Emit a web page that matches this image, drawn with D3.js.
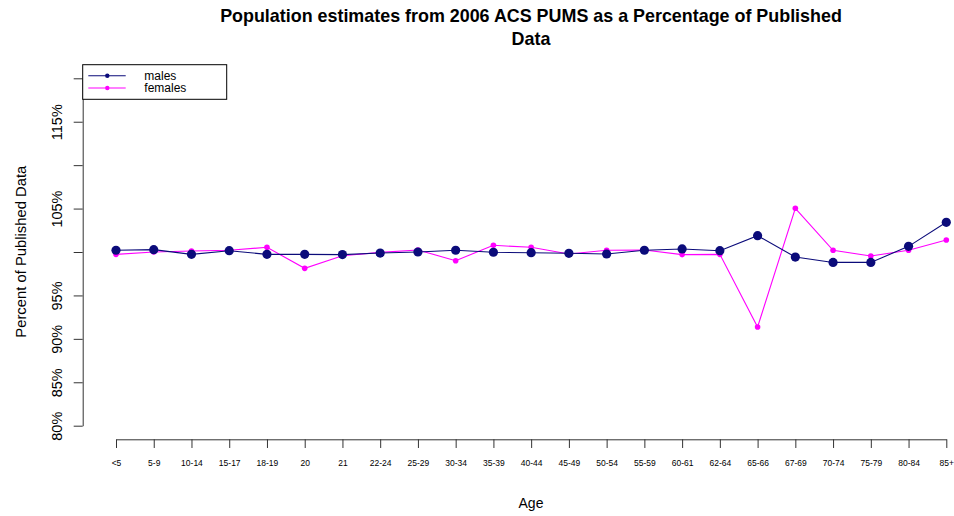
<!DOCTYPE html>
<html>
<head>
<meta charset="utf-8">
<script src="https://cdn.jsdelivr.net/npm/d3@7"></script>
<style>
  html, body { margin: 0; padding: 0; background: #fff; }
  svg { display: block; font-family: "Liberation Sans", Arial, Helvetica, sans-serif; }
</style>
</head>
<body>
<svg id="chart" width="954" height="516"></svg>
<script>
// Age groups on the x axis
const ageGroups = ["<5", "5-9", "10-14", "15-17", "18-19", "20", "21", "22-24", "25-29",
  "30-34", "35-39", "40-44", "45-49", "50-54", "55-59", "60-61", "62-64", "65-66",
  "67-69", "70-74", "75-79", "80-84", "85+"];

// PUMS estimate as a percentage of the published figure
const males = [100.2, 100.27, 99.73, 100.15, 99.73, 99.73, 99.7, 99.88, 100.0,
  100.2, 99.97, 99.92, 99.85, 99.77, 100.2, 100.35, 100.15, 101.88,
  99.42, 98.8, 98.8, 100.65, 103.42];
const females = [99.73, 100.0, 100.12, 100.2, 100.54, 98.12, 99.57, 99.96, 100.23,
  99.0, 100.77, 100.54, 99.77, 100.2, 100.23, 99.7, 99.73, 91.36,
  105.03, 100.2, 99.54, 100.2, 101.38];

// y ticks every 5%; only some carry a label
const yTicks = [80, 85, 90, 95, 100, 105, 110, 115, 120];
const yTickLabels = ["80%", "85%", "90%", "95%", "", "105%", "", "115%", ""];

const titleLines = ["Population estimates from 2006 ACS PUMS as a Percentage of Published", "Data"];

const svg = d3.select("#chart");

const x = d3.scalePoint().domain(ageGroups).range([116, 946.3]);
const y = d3.scaleLinear().domain([80, 120]).range([425.7, 78.3]);

const plotLeft = 82.7, plotBottom = 439.3;
const axisColor = "#333";

// x axis
const xAxis = svg.append("g")
  .attr("transform", `translate(0,${plotBottom})`)
  .call(d3.axisBottom(x).tickSizeInner(8.7).tickSizeOuter(0).tickPadding(12));
xAxis.selectAll("path, line").attr("stroke", axisColor).attr("stroke-width", 1);
xAxis.selectAll("text").attr("font-size", 8.5).attr("fill", "#000")
  .attr("font-family", "Liberation Sans, Arial, sans-serif");

// y axis
const yAxis = svg.append("g")
  .attr("transform", `translate(${plotLeft},0)`)
  .call(d3.axisLeft(y).tickValues(yTicks).tickFormat((d, i) => yTickLabels[i])
    .tickSizeInner(9).tickSizeOuter(0));
yAxis.selectAll("path, line").attr("stroke", axisColor).attr("stroke-width", 1);
yAxis.selectAll("text")
  .attr("font-size", 14.5).attr("fill", "#000")
  .attr("font-family", "Liberation Sans, Arial, sans-serif")
  .attr("text-anchor", "middle")
  .attr("dy", null).attr("x", null)
  .attr("transform", `translate(${56.7 - plotLeft},0) rotate(-90)`)
  .attr("dominant-baseline", "central");

// series lines and points
const line = d3.line().x((d, i) => x(ageGroups[i])).y(d => y(d));

function drawSeries(values, color, r) {
  svg.append("path").datum(values)
    .attr("d", line).attr("fill", "none")
    .attr("stroke", color).attr("stroke-width", 1.1);
  svg.append("g").selectAll("circle").data(values).join("circle")
    .attr("cx", (d, i) => x(ageGroups[i])).attr("cy", d => y(d))
    .attr("r", r).attr("fill", color);
}
drawSeries(females, "#ff00ff", 2.8);
drawSeries(males, "#0b0b7a", 4.6);

// title
svg.append("g").selectAll("text").data(titleLines).join("text")
  .attr("x", 531).attr("y", (d, i) => 22 + i * 22.5)
  .attr("text-anchor", "middle").attr("font-size", 17.9).attr("font-weight", "bold")
  .attr("font-family", "Liberation Sans, Arial, sans-serif")
  .text(d => d);

// axis titles
svg.append("text").attr("x", 531).attr("y", 508)
  .attr("text-anchor", "middle").attr("font-size", 14).text("Age");
svg.append("text")
  .attr("transform", "translate(25.5,251.7) rotate(-90)")
  .attr("text-anchor", "middle").attr("font-size", 14.8).text("Percent of Published Data");

// legend
const legend = svg.append("g");
legend.append("rect").attr("x", 82.7).attr("y", 64.7).attr("width", 144).attr("height", 34.6)
  .attr("fill", "#fff").attr("stroke", "#000").attr("stroke-width", 1);
const legendItems = [{ name: "males", color: "#0b0b7a" }, { name: "females", color: "#ff00ff" }];
legendItems.forEach((item, i) => {
  const ly = 75.7 + i * 12.3;
  legend.append("line").attr("x1", 88.3).attr("x2", 125.7).attr("y1", ly).attr("y2", ly)
    .attr("stroke", item.color).attr("stroke-width", 1.1);
  legend.append("circle").attr("cx", 107.3).attr("cy", ly).attr("r", 2.2).attr("fill", item.color);
  legend.append("text").attr("x", 144.3).attr("y", ly + 4).attr("font-size", 12)
    .text(item.name);
});
</script>
</body>
</html>
